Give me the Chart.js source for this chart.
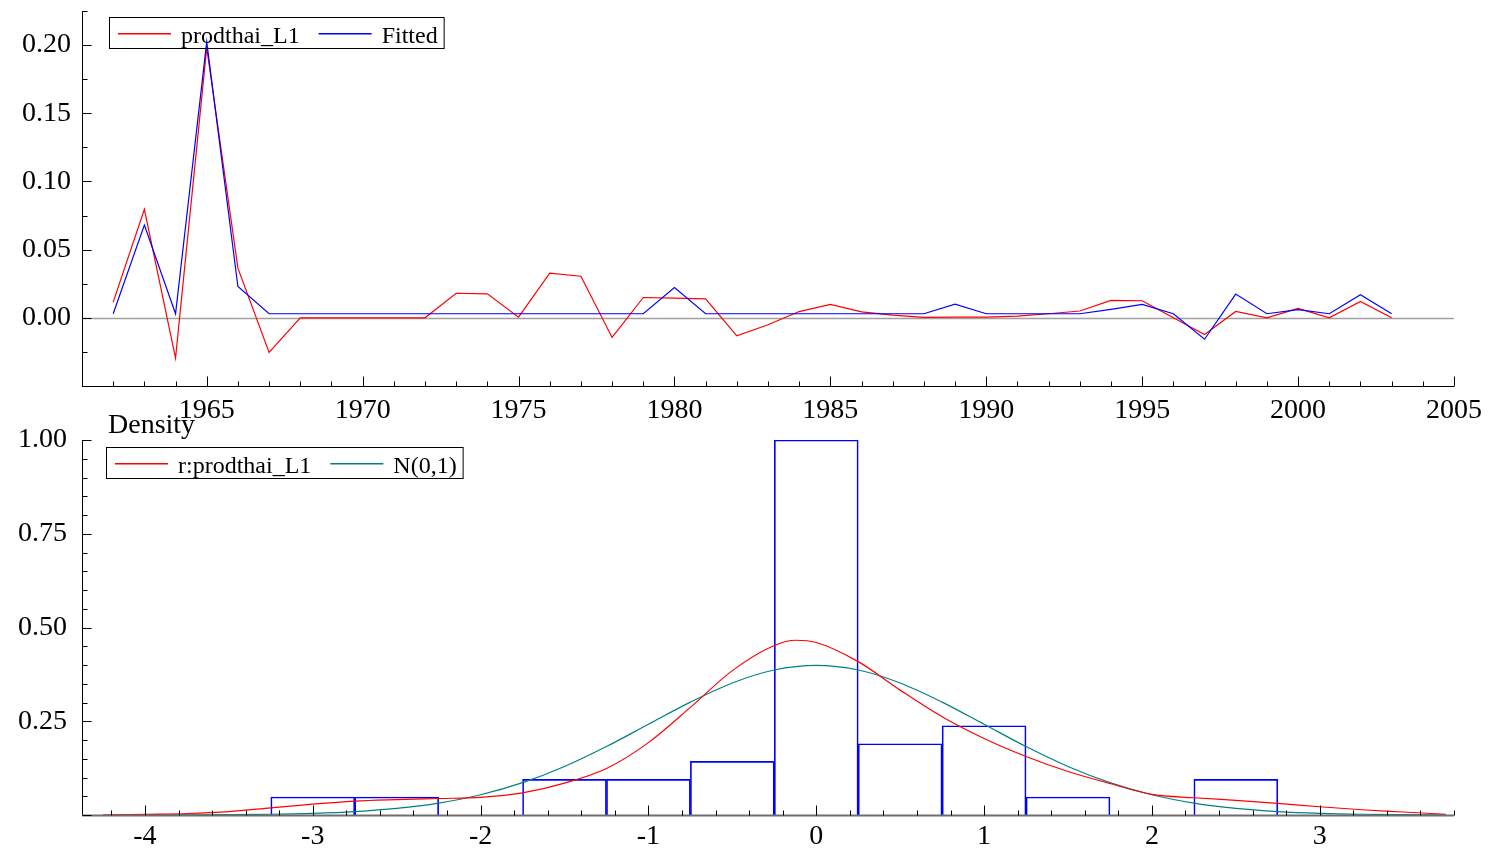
<!DOCTYPE html>
<html>
<head>
<meta charset="utf-8">
<title>prodthai_L1</title>
<script src="https://cdn.jsdelivr.net/npm/chart.js@4.4.1/dist/chart.umd.min.js"></script>
<style>
    body { margin: 0; background: #fff; }
    #wrap { position: relative; width: 1488px; height: 848px; }
    canvas { position: absolute; left: 0; top: 0; }
</style>
</head>
<body>
<div id="wrap">
    <canvas id="fitChart" width="1488" height="848"></canvas>
    <canvas id="densChart" width="1488" height="848"></canvas>
</div>
<script>
// top panel: actual vs fitted
const years = [1962, 1963, 1964, 1965, 1966, 1967, 1968, 1969, 1970, 1971, 1972, 1973, 1974, 1975,
    1976, 1977, 1978, 1979, 1980, 1981, 1982, 1983, 1984, 1985, 1986, 1987, 1988, 1989,
    1990, 1991, 1992, 1993, 1994, 1995, 1996, 1997, 1998, 1999, 2000, 2001, 2002, 2003];
const prodthai = [0.0115, 0.0796, -0.0295, 0.198, 0.0364, -0.0254, 0.0, 0.0, 0.0, 0.0, 0.0, 0.018, 0.0176, 0.0005,
    0.0327, 0.0305, -0.0144, 0.0149, 0.0144, 0.0139, -0.0132, -0.0051, 0.0046, 0.0099, 0.0043, 0.002, 0.0003, 0.0005,
    0.0005, 0.0013, 0.003, 0.005, 0.0128, 0.0125, 0.0, -0.0122, 0.0047, 0.0, 0.0069, 0.0, 0.012, 0.0];
const fitted = [0.003, 0.068, 0.003, 0.2024, 0.023, 0.003, 0.003, 0.003, 0.003, 0.003, 0.003, 0.003, 0.003, 0.003,
    0.003, 0.003, 0.003, 0.003, 0.0222, 0.003, 0.003, 0.003, 0.003, 0.003, 0.003, 0.003, 0.003, 0.010,
    0.003, 0.003, 0.003, 0.003, 0.0062, 0.0099, 0.003, -0.0157, 0.0174, 0.003, 0.006, 0.003, 0.017, 0.003];

// bottom panel: residual density
const binCenters = [-3, -2.5, -2, -1.5, -1, -0.5, 0, 0.5, 1, 1.5, 2, 2.5];
const binDensity = [0.048, 0.048, 0, 0.095, 0.095, 0.143, 1.0, 0.19, 0.238, 0.048, 0, 0.095];
const kdeX = [-4.25, -4, -3.75, -3.5, -3.25, -3, -2.75, -2.5, -2.25, -2, -1.75, -1.5, -1.25, -1, -0.75, -0.5, -0.25,
    -0.125, 0, 0.25, 0.5, 0.75, 1, 1.25, 1.5, 1.75, 2, 2.25, 2.5, 2.75, 3, 3.25, 3.5, 3.75];
const kdeY = [0.0, 0.002, 0.004, 0.009, 0.019, 0.029, 0.037, 0.041, 0.044, 0.047, 0.059, 0.085, 0.124, 0.193, 0.287, 0.385, 0.452,
    0.466, 0.460, 0.409, 0.333, 0.262, 0.204, 0.156, 0.116, 0.084, 0.055, 0.046, 0.039, 0.031, 0.022, 0.014, 0.008, 0.002];
const normX = [-4.25, -4, -3.75, -3.5, -3.25, -3, -2.75, -2.5, -2.25, -2, -1.75, -1.5, -1.25, -1, -0.75, -0.5, -0.25,
    0, 0.25, 0.5, 0.75, 1, 1.25, 1.5, 1.75, 2, 2.25, 2.5, 2.75, 3, 3.25, 3.5, 3.75];
const normY = [0.0, 0.0001, 0.0004, 0.0009, 0.002, 0.0044, 0.0091, 0.0175, 0.0317, 0.054, 0.0863, 0.1295, 0.1826, 0.242, 0.3011, 0.3521, 0.3867,
    0.3989, 0.3867, 0.3521, 0.3011, 0.242, 0.1826, 0.1295, 0.0863, 0.054, 0.0317, 0.0175, 0.0091, 0.0044, 0.002, 0.0009, 0.0004];

const FONT = '"Liberation Serif", "Times New Roman", serif';
const RED = '#ff0000';
const BLUE = '#0000ff';
const TEAL = '#008080';

// legend boxes, kept outside the chart options
const legends = {
    fit: { x: 109, y: 17, labels: ['prodthai_L1', 'Fitted'], colors: [RED, BLUE] },
    dens: { x: 106, y: 447, labels: ['r:prodthai_L1', 'N(0,1)'], colors: [RED, TEAL] },
};


function onStep(v, step) {
    /**
     * true when v sits on a multiple of step
     */
    const r = v / step;
    return Math.abs(r - Math.round(r)) < 1e-6;
}


function eachStep(min, max, step, fn) {
    const first = Math.ceil(min / step - 1e-6);
    const last = Math.floor(max / step + 1e-6);
    for (let k = first; k <= last; k++) {
        fn(k * step);
    }
}


function drawLegend(ctx, lg) {
    /**
     * boxed legend like the original program draws
     */
    ctx.font = '24px ' + FONT;
    ctx.textBaseline = 'alphabetic';
    let cursor = lg.x + 9;
    const starts = [];
    lg.labels.forEach((label, i) => {
        starts.push(cursor);
        const w = ctx.measureText(label).width;
        cursor = cursor + 63 + w + (i < lg.labels.length - 1 ? 19 : 6);
    });
    ctx.strokeStyle = '#000000';
    ctx.lineWidth = 1;
    ctx.strokeRect(lg.x + 0.5, lg.y + 0.5, cursor - lg.x, 31);

    for (let i = 0; i < lg.labels.length; i++) {
        const x0 = starts[i];
        // filled strip instead of a stroke, keeps the colour solid
        ctx.fillStyle = lg.colors[i];
        ctx.fillRect(x0, lg.y + 16, 53, 1.5);
        ctx.fillStyle = '#000000';
        ctx.fillText(lg.labels[i], x0 + 63, lg.y + 26);
    }
}


const framePlugin = {
    id: 'frame',
    beforeDatasetsDraw(chart, args, opts) {
        if (!opts.zeroLine) return;
        const { ctx, chartArea } = chart;
        const y = Math.round(chart.scales.y.getPixelForValue(0)) + 0.5;
        ctx.save();
        ctx.strokeStyle = '#a0a0a0';
        ctx.lineWidth = 1.5;
        ctx.beginPath();
        ctx.moveTo(chartArea.left, y);
        ctx.lineTo(chartArea.right, y);
        ctx.stroke();
        ctx.restore();
    },
    afterDraw(chart, args, opts) {
        const { ctx, chartArea } = chart;
        const xs = chart.scales.x;
        const ys = chart.scales.y;
        const bottom = Math.round(chartArea.bottom) + 0.5;
        const left = Math.round(chartArea.left) + 0.5;
        ctx.save();

        ctx.strokeStyle = '#000';
        ctx.lineWidth = 1;
        ctx.beginPath();
        ctx.moveTo(left, chartArea.top);
        ctx.lineTo(left, bottom);
        ctx.stroke();

        ctx.strokeStyle = opts.baseColor;
        ctx.lineWidth = opts.baseWidth;
        ctx.beginPath();
        ctx.moveTo(chartArea.left, bottom);
        ctx.lineTo(chartArea.right, bottom);
        ctx.stroke();

        // tick marks point inwards, minor ones shorter
        ctx.strokeStyle = '#000';
        ctx.lineWidth = 1;
        eachStep(xs.min, xs.max, opts.xMinor, v => {
            const len = onStep(v, opts.xMajor) ? 10 : 5;
            const px = Math.round(xs.getPixelForValue(v)) + 0.5;
            ctx.beginPath();
            ctx.moveTo(px, bottom);
            ctx.lineTo(px, bottom - len);
            ctx.stroke();
        });
        eachStep(ys.min, ys.max, opts.yMinor, v => {
            const len = onStep(v, opts.yMajor) ? 9 : 5;
            const py = Math.round(ys.getPixelForValue(v)) + 0.5;
            ctx.beginPath();
            ctx.moveTo(left, py);
            ctx.lineTo(left + len, py);
            ctx.stroke();
        });

        drawLegend(ctx, legends[chart.canvas.id === 'fitChart' ? 'fit' : 'dens']);

        if (opts.title) {
            ctx.font = '28px ' + FONT;
            ctx.fillStyle = '#000';
            ctx.textBaseline = 'alphabetic';
            ctx.fillText(opts.title.text, opts.title.x, opts.title.y);
        }
        ctx.restore();
    }
};


function tickFont() {
    return { family: FONT, size: 28 };
}


function noOverflow(s) {
    // labels may hang over the plot edges, don't let them shrink the plot
    s.paddingTop = 0;
    s.paddingBottom = 0;
    s.paddingLeft = 0;
    s.paddingRight = 0;
}


function makeFitChart() {
    /**
     * actual and fitted series over the years
     */
    const ctx = document.getElementById('fitChart').getContext('2d');
    return new Chart(ctx, {
        type: 'line',
        data: {
            datasets: [
                {
                    label: 'prodthai_L1',
                    data: years.map((yr, i) => ({ x: yr, y: prodthai[i] })),
                    borderColor: RED,
                    borderWidth: 1.2,
                    pointRadius: 0,
                    tension: 0,
                    order: 2,
                },
                {
                    label: 'Fitted',
                    data: years.map((yr, i) => ({ x: yr, y: fitted[i] })),
                    borderColor: BLUE,
                    borderWidth: 1.2,
                    pointRadius: 0,
                    tension: 0,
                    order: 1,
                },
            ],
        },
        options: {
            responsive: false,
            animation: false,
            events: [],
            layout: { padding: { top: 11, right: 34, bottom: 422, left: 0 } },
            plugins: {
                legend: { display: false },
                tooltip: { enabled: false },
                frame: {
                    zeroLine: true,
                    baseColor: '#000', baseWidth: 1,
                    xMinor: 1, xMajor: 5, yMinor: 0.025, yMajor: 0.05,
                },
            },
            scales: {
                x: {
                    type: 'linear', min: 1961, max: 2005,
                    grid: { display: false, drawTicks: false },
                    border: { display: false },
                    ticks: {
                        stepSize: 5, includeBounds: false, autoSkip: false, maxRotation: 0, padding: 8,
                        color: '#000', font: tickFont(),
                        callback: v => (onStep(v, 5) ? String(Math.round(v)) : ''),
                    },
                    afterFit: s => { noOverflow(s); s.height = 40; },
                },
                y: {
                    type: 'linear', min: -0.05, max: 0.225,
                    grid: { display: false, drawTicks: false },
                    border: { display: false },
                    ticks: {
                        stepSize: 0.05, includeBounds: false, autoSkip: false, padding: 11,
                        color: '#000', font: tickFont(),
                        callback: v => (onStep(v, 0.05) && v > -0.001 && v < 0.201 ? Math.abs(v).toFixed(2) : ''),
                    },
                    afterFit: s => { noOverflow(s); s.width = 82; },
                },
            },
        },
        plugins: [framePlugin],
    });
}


function makeDensChart() {
    /**
     * histogram of residuals with density estimate and N(0,1)
     */
    const ctx = document.getElementById('densChart').getContext('2d');
    return new Chart(ctx, {
        type: 'bar',
        data: {
            datasets: [
                {
                    type: 'line',
                    label: 'r:prodthai_L1',
                    data: kdeX.map((x, i) => ({ x: x, y: kdeY[i] })),
                    borderColor: RED,
                    borderWidth: 1.2,
                    pointRadius: 0,
                    cubicInterpolationMode: 'monotone',
                    fill: false,
                },
                {
                    type: 'line',
                    label: 'N(0,1)',
                    data: normX.map((x, i) => ({ x: x, y: normY[i] })),
                    borderColor: TEAL,
                    borderWidth: 1.2,
                    pointRadius: 0,
                    cubicInterpolationMode: 'monotone',
                    fill: false,
                },
                {
                    type: 'bar',
                    data: binCenters.map((c, i) => ({ x: c, y: binDensity[i] })),
                    borderColor: BLUE,
                    backgroundColor: 'rgba(0,0,0,0)',
                    borderWidth: 1,
                    borderSkipped: 'start',
                    barPercentage: 1,
                    categoryPercentage: 1,
                    grouped: false,
                },
            ],
        },
        options: {
            responsive: false,
            animation: false,
            events: [],
            layout: { padding: { top: 440, right: 34, bottom: 0, left: 0 } },
            plugins: {
                legend: { display: false },
                tooltip: { enabled: false },
                frame: {
                    zeroLine: false,
                    baseColor: '#6e6e6e', baseWidth: 2,
                    xMinor: 0.2, xMajor: 1, yMinor: 0.05, yMajor: 0.25,
                    title: { text: 'Density', x: 108, y: 433 },
                },
            },
            scales: {
                x: {
                    type: 'linear', min: -4.375, max: 3.8, offset: false,
                    grid: { display: false, drawTicks: false, offset: false },
                    border: { display: false },
                    ticks: {
                        stepSize: 1, includeBounds: false, autoSkip: false, maxRotation: 0, padding: 5,
                        color: '#000', font: tickFont(),
                        callback: v => (onStep(v, 1) ? String(Math.round(v)) : ''),
                    },
                    afterFit: s => { noOverflow(s); s.height = 33; },
                },
                y: {
                    type: 'linear', min: 0, max: 1.0,
                    grid: { display: false, drawTicks: false },
                    border: { display: false },
                    ticks: {
                        stepSize: 0.25, includeBounds: false, autoSkip: false, padding: 15,
                        color: '#000', font: tickFont(),
                        callback: v => (v > 0.01 ? v.toFixed(2) : ''),
                    },
                    afterFit: s => { noOverflow(s); s.width = 82; },
                },
            },
        },
        plugins: [framePlugin],
    });
}


document.addEventListener("DOMContentLoaded", () => {
    makeFitChart();
    makeDensChart();
});
</script>
</body>
</html>
